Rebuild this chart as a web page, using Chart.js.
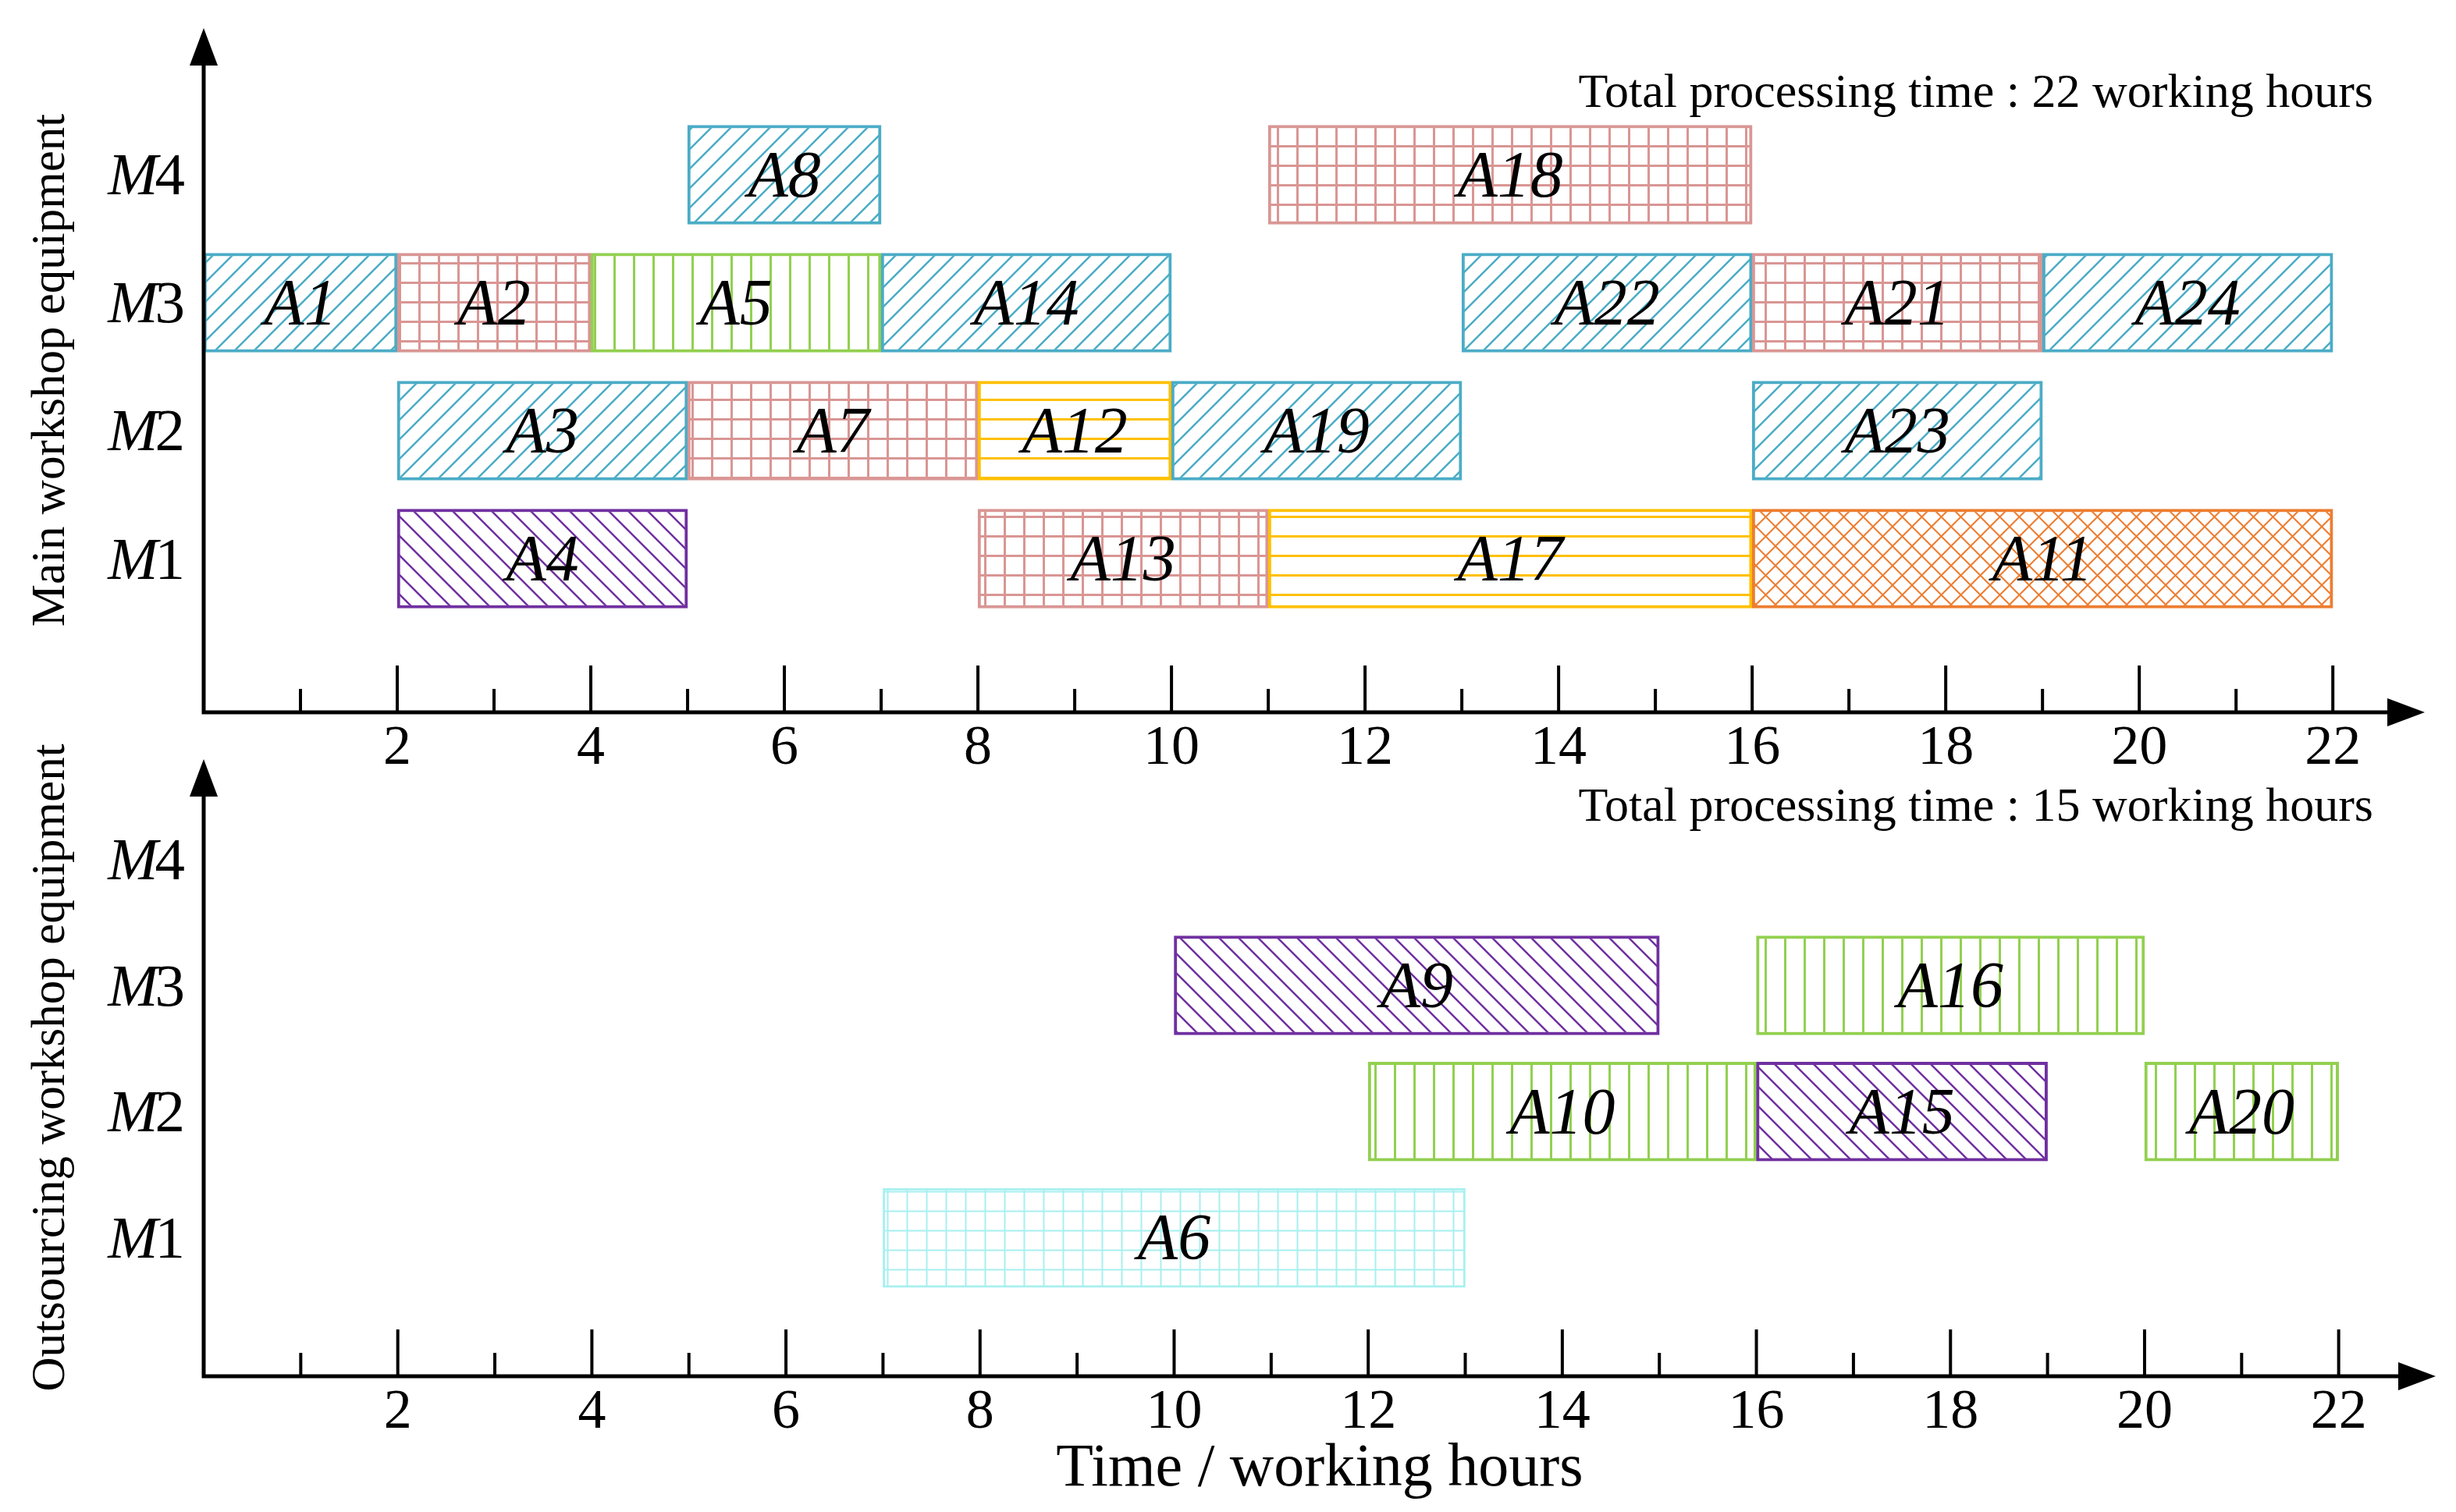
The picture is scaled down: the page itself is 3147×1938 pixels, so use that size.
<!DOCTYPE html>
<html>
<head>
<meta charset="utf-8">
<script src="https://cdn.jsdelivr.net/npm/chart.js@4.4.1/dist/chart.umd.min.js"></script>
<style>
  html, body { margin: 0; padding: 0; background: #fff; }
  #wrap { position: relative; width: 3147px; height: 1938px; }
  .panel { position: absolute; left: 0; width: 3147px; }
  #mainBox { top: 0; height: 1000px; }
  #outBox { top: 940px; height: 998px; }
</style>
</head>
<body>
<div id="wrap">
  <div class="panel" id="mainBox"><canvas id="mainChart"></canvas></div>
  <div class="panel" id="outBox"><canvas id="outChart"></canvas></div>
</div>
<script>
/* ════════════════════════════════════════════════════════════════
   DATA
   ════════════════════════════════════════════════════════════════ */

const machineLabels = ['M1', 'M2', 'M3', 'M4'];
const machineRows   = [1, 2, 3, 4];
const hourTicks     = [2, 4, 6, 8, 10, 12, 14, 16, 18, 20, 22];
const hourMarks     = [1, 2, 3, 4, 5, 6, 7, 8, 9, 10, 11, 12, 13, 14, 15, 16, 17, 18, 19, 20, 21, 22];

// main workshop
const mainTasks   = ['A8', 'A18', 'A1', 'A2', 'A5', 'A14', 'A22', 'A21', 'A24', 'A3', 'A7', 'A12', 'A19', 'A23', 'A4', 'A13', 'A17', 'A11'];
const mainMachine = [4, 4, 3, 3, 3, 3, 3, 3, 3, 2, 2, 2, 2, 2, 1, 1, 1, 1];
const mainStart   = [5, 11, 0, 2, 4, 7, 13, 16, 19, 2, 5, 8, 10, 16, 2, 8, 11, 16];
const mainEnd     = [7, 16, 2, 4, 7, 10, 16, 19, 22, 5, 8, 10, 13, 19, 5, 11, 16, 22];
const mainTotalHours = 22;

// outsourcing workshop
const outTasks   = ['A9', 'A16', 'A10', 'A15', 'A20', 'A6'];
const outMachine = [3, 3, 2, 2, 2, 1];
const outStart   = [10, 16, 12, 16, 20, 7];
const outEnd     = [15, 20, 16, 19, 22, 13];
const outTotalHours = 15;

/* ════════════════════════════════════════════════════════════════
   STYLES
   ════════════════════════════════════════════════════════════════ */

const SERIF = "'Liberation Serif', 'Times New Roman', serif";
const TILE = 25;

const STYLE = {
  blue:   { kind: 'fwd',   color: '#4BACC6', lw: 2.5 },
  red:    { kind: 'grid',  color: '#D99694', lw: 3 },
  green:  { kind: 'vert',  color: '#92D050', lw: 3 },
  yellow: { kind: 'horiz', color: '#FFC000', lw: 3 },
  purple: { kind: 'back',  color: '#7030A0', lw: 2.5 },
  orange: { kind: 'cross', color: '#ED7D31', lw: 2 },
  cyan:   { kind: 'grid',  color: '#A8F0F0', lw: 2 }
};

const taskStyle = {
  A1: 'blue', A3: 'blue', A8: 'blue', A14: 'blue', A19: 'blue', A22: 'blue', A23: 'blue', A24: 'blue',
  A2: 'red', A7: 'red', A13: 'red', A18: 'red', A21: 'red',
  A5: 'green', A10: 'green', A16: 'green', A20: 'green',
  A12: 'yellow', A17: 'yellow',
  A4: 'purple', A9: 'purple', A15: 'purple',
  A11: 'orange',
  A6: 'cyan'
};

function makePattern(st) {
  const c = document.createElement('canvas');
  c.width = c.height = TILE;
  const g = c.getContext('2d');
  const s = TILE;
  g.fillStyle = '#fff';
  g.fillRect(0, 0, s, s);
  g.strokeStyle = st.color;
  g.lineWidth = st.lw;
  g.beginPath();
  if (st.kind === 'fwd' || st.kind === 'cross') {
    g.moveTo(0, s); g.lineTo(s, 0);
    g.moveTo(-3, 3); g.lineTo(3, -3);
    g.moveTo(s - 3, s + 3); g.lineTo(s + 3, s - 3);
  }
  if (st.kind === 'back' || st.kind === 'cross') {
    g.moveTo(0, 0); g.lineTo(s, s);
    g.moveTo(-3, s - 3); g.lineTo(3, s + 3);
    g.moveTo(s - 3, -3); g.lineTo(s + 3, 3);
  }
  if (st.kind === 'vert' || st.kind === 'grid') { g.moveTo(s / 2, 0); g.lineTo(s / 2, s); }
  if (st.kind === 'horiz' || st.kind === 'grid') { g.moveTo(0, s / 2); g.lineTo(s, s / 2); }
  g.stroke();
  return g.createPattern(c, 'repeat');
}

const patterns = {};
Object.keys(STYLE).forEach(k => { patterns[k] = makePattern(STYLE[k]); });

function buildDataset(tasks, machine, start, end) {
  return {
    data: tasks.map((t, i) => ({ y: machine[i], x: [start[i], end[i]], task: t })),
    backgroundColor: tasks.map(t => patterns[taskStyle[t]]),
    borderColor: tasks.map(t => STYLE[taskStyle[t]].color),
    borderWidth: tasks.map(t => taskStyle[t] === 'cyan' ? 3 : 4),
    borderSkipped: false,
    barThickness: 127,
    grouped: false
  };
}

/* ════════════════════════════════════════════════════════════════
   DECORATION PLUGIN — arrows, tick marks, row labels, bar labels
   ════════════════════════════════════════════════════════════════ */

const ganttDecor = {
  id: 'ganttDecor',
  afterDatasetsDraw(chart, args, opts) {
    const { ctx, chartArea: a, scales: { x, y } } = chart;
    ctx.save();
    ctx.strokeStyle = '#000';
    ctx.fillStyle = '#000';

    // axes with arrow heads
    const head = 48, half = 18;
    ctx.lineWidth = 5;
    ctx.beginPath();
    ctx.moveTo(a.left, a.bottom);
    ctx.lineTo(a.right - head + 2, a.bottom);
    ctx.moveTo(a.left, a.bottom + 2.5);
    ctx.lineTo(a.left, a.top + head - 2);
    ctx.stroke();
    ctx.beginPath();
    ctx.moveTo(a.right, a.bottom);
    ctx.lineTo(a.right - head, a.bottom - half);
    ctx.lineTo(a.right - head, a.bottom + half);
    ctx.closePath();
    ctx.moveTo(a.left, a.top);
    ctx.lineTo(a.left - half, a.top + head);
    ctx.lineTo(a.left + half, a.top + head);
    ctx.closePath();
    ctx.fill();

    // tick marks pointing up into the plot
    ctx.lineWidth = 4;
    ctx.beginPath();
    hourMarks.forEach(v => {
      const px = x.getPixelForValue(v);
      const len = v % 2 === 0 ? 60 : 30;
      ctx.moveTo(px, a.bottom);
      ctx.lineTo(px, a.bottom - len);
    });
    ctx.stroke();

    // machine labels: italic M, upright number
    const italic = `italic 77px ${SERIF}`;
    const upright = `77px ${SERIF}`;
    ctx.textBaseline = 'alphabetic';
    ctx.textAlign = 'left';
    machineLabels.forEach((lab, i) => {
      const py = y.getPixelForValue(machineRows[i]) + 0.331 * 77;
      const num = lab.slice(1);
      ctx.font = upright;
      const wNum = ctx.measureText(num).width;
      ctx.font = italic;
      const wM = ctx.measureText('M').width;
      const right = 237;
      ctx.fillText('M', right - wNum - wM + 4, py);
      ctx.font = upright;
      ctx.fillText(num, right - wNum, py);
    });

    // task labels in the middle of each bar
    ctx.font = `italic 84px ${SERIF}`;
    ctx.textAlign = 'center';
    const meta = chart.getDatasetMeta(0);
    const ds = chart.data.datasets[0].data;
    meta.data.forEach((el, i) => {
      const cx = (el.x + el.base) / 2;
      ctx.fillText(ds[i].task, cx, el.y + 0.331 * 84);
    });

    // total processing time note
    ctx.font = `62px ${SERIF}`;
    ctx.textAlign = 'right';
    ctx.fillText(opts.note, 3041, opts.noteY);

    ctx.restore();
  }
};

/* ════════════════════════════════════════════════════════════════
   CHARTS
   ════════════════════════════════════════════════════════════════ */

function chartOptions(cfg) {
  return {
    indexAxis: 'y',
    responsive: true,
    maintainAspectRatio: false,
    animation: false,
    layout: { padding: { top: cfg.padTop, right: cfg.padRight, left: 0, bottom: 0 }, autoPadding: false },
    plugins: {
      legend: { display: false },
      tooltip: { enabled: false },
      ganttDecor: { note: cfg.note, noteY: cfg.noteY }
    },
    scales: {
      x: {
        type: 'linear',
        min: 0,
        max: cfg.xMax,
        grid: { display: false, drawTicks: false },
        border: { display: false },
        afterBuildTicks: s => { s.ticks = hourTicks.map(v => ({ value: v })); },
        ticks: { color: '#000', font: { family: SERIF, size: 72 }, padding: 4, autoSkip: false, maxRotation: 0 },
        title: cfg.xTitle
          ? { display: true, text: cfg.xTitle, color: '#000', font: { family: SERIF, size: 78 }, padding: { top: 0, bottom: 8 } }
          : { display: false },
        afterFit: s => { s.height = cfg.xHeight; }
      },
      y: {
        type: 'linear',
        offset: false,
        min: cfg.yMin,
        max: cfg.yMax,
        grid: { display: false },
        border: { display: false },
        ticks: { display: false },
        title: { display: true, text: cfg.yTitle, color: '#000', font: { family: SERIF, size: 61 }, padding: { top: 29, bottom: 0 } },
        afterFit: s => { s.width = 261; }
      }
    }
  };
}

const mainChart = new Chart(document.getElementById('mainChart'), {
  type: 'bar',
  data: { datasets: [buildDataset(mainTasks, mainMachine, mainStart, mainEnd)] },
  options: chartOptions({
    padTop: 36, padRight: 40, xMax: 22.95, xHeight: 87,
    yMin: -0.201, yMax: 5.146,
    yTitle: 'Main workshop equipment',
    note: `Total processing time : ${mainTotalHours} working hours`, noteY: 137
  }),
  plugins: [ganttDecor]
});

const outChart = new Chart(document.getElementById('outChart'), {
  type: 'bar',
  data: { datasets: [buildDataset(outTasks, outMachine, outStart, outEnd)] },
  options: chartOptions({
    padTop: 33, padRight: 26, xMax: 23.0, xHeight: 174,
    yMin: -0.097, yMax: 4.793,
    yTitle: 'Outsourcing workshop equipment',
    xTitle: 'Time / working hours',
    note: `Total processing time : ${outTotalHours} working hours`, noteY: 112
  }),
  plugins: [ganttDecor]
});
</script>
</body>
</html>
